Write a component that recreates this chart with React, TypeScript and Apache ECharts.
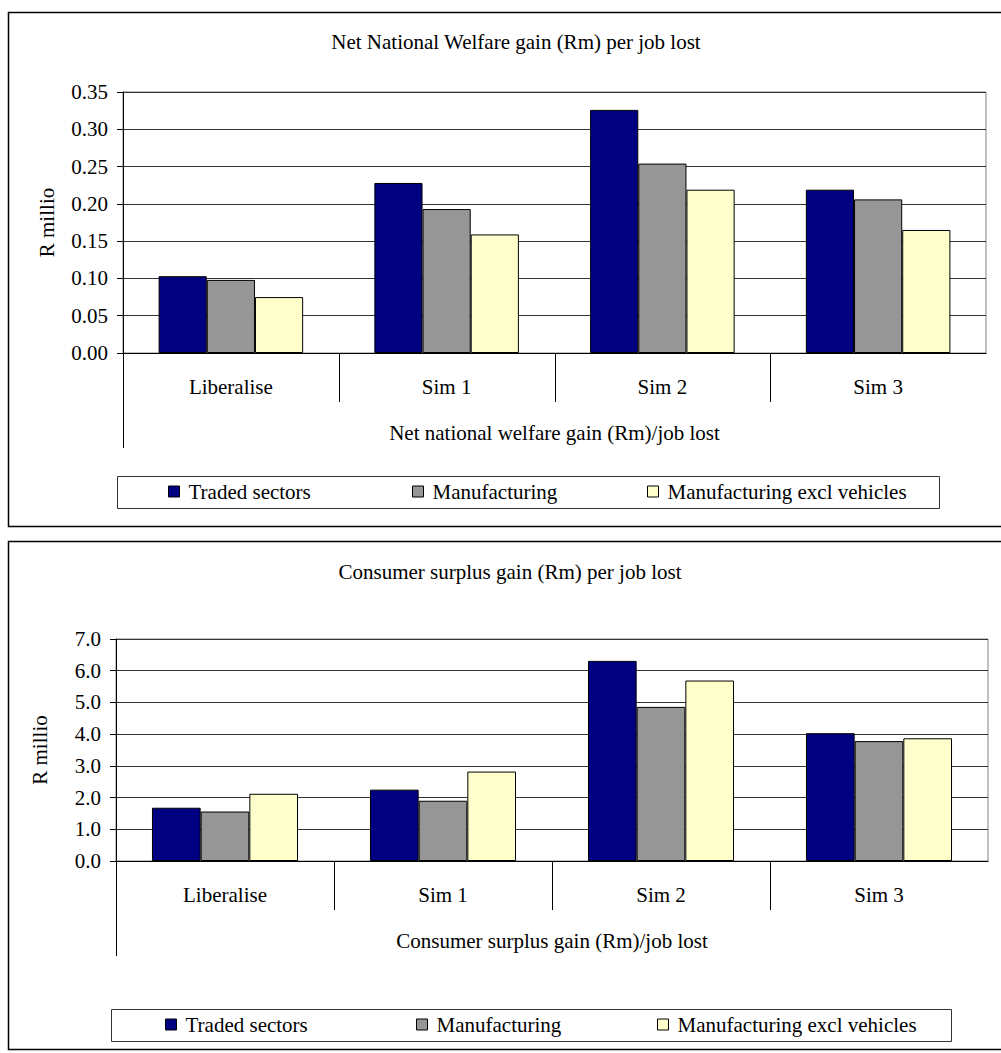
import React, { useEffect, useRef } from 'react';
import * as echarts from 'echarts';

const categories = ['Liberalise', 'Sim 1', 'Sim 2', 'Sim 3'];
const seriesNames = ['Traded sectors', 'Manufacturing', 'Manufacturing excl vehicles'];
const seriesColors = ['#000080', '#969696', '#FFFFCC'];

const welfareTraded = [0.103, 0.228, 0.326, 0.219];
const welfareManuf = [0.098, 0.193, 0.254, 0.206];
const welfareExcl = [0.075, 0.159, 0.219, 0.165];

const surplusTraded = [1.68, 2.25, 6.31, 4.03];
const surplusManuf = [1.56, 1.9, 4.86, 3.78];
const surplusExcl = [2.12, 2.82, 5.69, 3.87];

const titles = ['Net National Welfare gain (Rm) per job lost', 'Consumer surplus gain (Rm) per job lost'];
const axisTitles = ['Net national welfare gain (Rm)/job lost', 'Consumer surplus gain (Rm)/job lost'];
const yName = 'R millio';
const welfareAxis = { min: 0, max: 0.35, interval: 0.05, decimals: 2 };
const surplusAxis = { min: 0, max: 7, interval: 1, decimals: 1 };

const FONT = "'Liberation Serif', 'Times New Roman', serif";
const txt = { fontFamily: FONT, fontSize: 21, color: '#000' };

export default function App() {
  const ref = useRef<HTMLDivElement>(null);
  useEffect(() => {
    if (!ref.current) return;
    const chart = echarts.init(ref.current, undefined, { renderer: 'svg' });
    const panels = [
      { data: [welfareTraded, welfareManuf, welfareExcl], axis: welfareAxis, grid: { left: 123, top: 92, width: 863, height: 261 }, titleX: 516, titleY: 42, legendY: 492, legendX: [168, 412, 647] },
      { data: [surplusTraded, surplusManuf, surplusExcl], axis: surplusAxis, grid: { left: 116, top: 639, width: 872, height: 222 }, titleX: 510, titleY: 572, legendY: 1025, legendX: [165, 416, 657] },
    ];
    const option: any = {
      animation: false,
      backgroundColor: '#fff',
      title: panels.map((p, i) => ({
        text: titles[i], left: p.titleX, top: p.titleY - 11, textAlign: 'center', padding: 0,
        textStyle: { ...txt, fontWeight: 'normal' },
      })),
      grid: panels.map((p) => ({ ...p.grid, show: true, borderColor: '#808080', borderWidth: 1, backgroundColor: 'transparent' })),
      xAxis: panels.map((p, i) => ({
        type: 'category', gridIndex: i, data: categories,
        axisLine: { show: true, lineStyle: { color: '#000', width: 1 } },
        axisTick: { show: false },
        axisLabel: { ...txt, margin: 23 },
        name: axisTitles[i], nameLocation: 'middle', nameGap: 69, nameTextStyle: txt,
      })),
      yAxis: panels.map((p, i) => ({
        type: 'value', gridIndex: i, min: p.axis.min, max: p.axis.max, interval: p.axis.interval,
        axisLine: { show: true, lineStyle: { color: '#000', width: 1 } },
        axisTick: { show: true, inside: false, length: 6, lineStyle: { color: '#000' } },
        axisLabel: { ...txt, margin: 15, formatter: (v: number) => v.toFixed(p.axis.decimals) },
        splitLine: { show: true, lineStyle: { color: '#333', width: 1 } },
        name: yName, nameLocation: 'middle', nameGap: 66, nameTextStyle: txt,
      })),
      legend: panels.flatMap((p) => seriesNames.map((n, k) => ({
        data: [n], left: p.legendX[k], top: p.legendY - 11, padding: 0, icon: 'rect',
        itemWidth: 11, itemHeight: 11, selectedMode: false,
        itemStyle: { borderColor: '#000', borderWidth: 1 },
        textStyle: { ...txt, padding: [0, 0, 0, 4] },
      }))),
      series: panels.flatMap((p, i) => p.data.map((d, k) => ({
        type: 'bar', name: seriesNames[k], xAxisIndex: i, yAxisIndex: i, data: d,
        barGap: '0%', barCategoryGap: '33%',
        itemStyle: { color: seriesColors[k], borderColor: '#000', borderWidth: 1 },
      }))),
    };
    chart.setOption(option);

    const graphics: any[] = [
      { type: 'rect', shape: { x: 8.5, y: 12.5, width: 1010, height: 514 }, style: { fill: 'none', stroke: '#000', lineWidth: 1.5 } },
      { type: 'rect', shape: { x: 8.5, y: 541.5, width: 1010, height: 508 }, style: { fill: 'none', stroke: '#000', lineWidth: 1.5 } },
      { type: 'rect', shape: { x: 117.5, y: 476.5, width: 822, height: 32 }, style: { fill: 'none', stroke: '#333', lineWidth: 1 } },
      { type: 'rect', shape: { x: 111.5, y: 1009.5, width: 840, height: 32 }, style: { fill: 'none', stroke: '#333', lineWidth: 1 } },
    ];
    panels.forEach((p, g) => {
      const y0 = chart.convertToPixel({ yAxisIndex: g } as any, 0) as number;
      const c0 = chart.convertToPixel({ xAxisIndex: g } as any, 0) as number;
      const c1 = chart.convertToPixel({ xAxisIndex: g } as any, 1) as number;
      const bw = c1 - c0;
      categories.forEach((_, i) => {
        const x = Math.round(c0 + i * bw - bw / 2) + 0.5;
        graphics.push({ type: 'line', shape: { x1: x, y1: y0, x2: x, y2: y0 + (i === 0 ? 95 : 49) }, style: { stroke: '#000', lineWidth: 1 } });
      });
    });
    chart.setOption({ graphic: graphics });
    return () => chart.dispose();
  }, []);
  return <div ref={ref} style={{ position: 'absolute', left: 0, top: 0, width: 1001, height: 1053 }} />;
}
